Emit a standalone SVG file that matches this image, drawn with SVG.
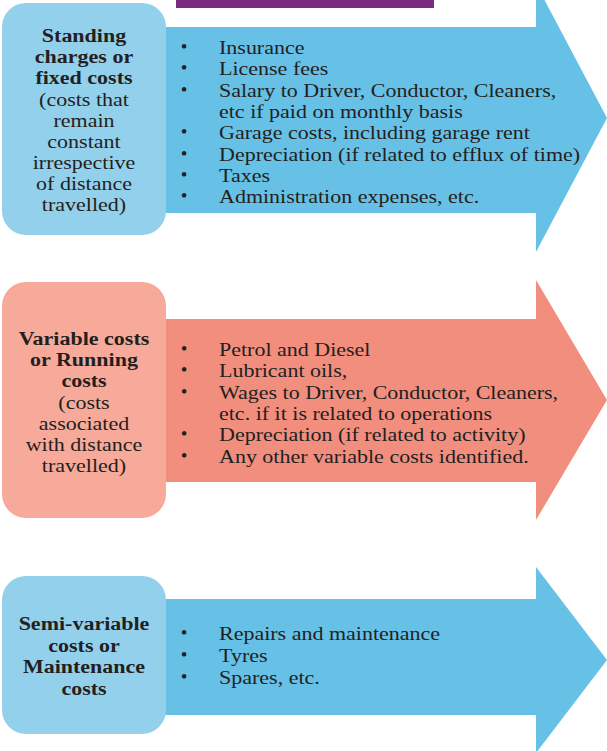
<svg xmlns="http://www.w3.org/2000/svg" width="607" height="751" viewBox="0 0 607 751">
<style>
.t{font-family:"Liberation Serif","Times New Roman",serif;font-size:19px;fill:#231F20}
.c{text-anchor:middle}
.b{font-weight:bold}
.bl{font-family:"Liberation Serif",serif;font-size:19px;fill:#231F20;text-anchor:middle}
.blue{fill:#67C0E6}
.lblue{fill:#93D0EC}
.red{fill:#F28E7E}
.lred{fill:#F7A99A}
</style>
<rect x="176" y="0" width="258" height="8" fill="#7B2A82"/>
<g id="connectors">
<path class="blue" d="M160 27 H536 V-16 L607 118 L536 252 V213 H160 Z"/>
<path class="red" d="M160 319 H536 V280 L607 400 L536 520 V482 H160 Z"/>
<path class="blue" d="M160 599 H536 V567 L607 660 L536 753 V715 H160 Z"/>
</g>
<g id="node1">
<rect class="lblue" x="2" y="3" width="164" height="232" rx="24"/>
<g transform="matrix(1.158 0 0 1 84 0)">
<text class="t c b"><tspan x="0" y="42">Standing</tspan><tspan x="0" y="63">charges or</tspan><tspan x="0" y="84">fixed costs</tspan></text>
<text class="t c"><tspan x="0" y="106">(costs that</tspan><tspan x="0" y="127">remain</tspan><tspan x="0" y="148">constant</tspan><tspan x="0" y="169">irrespective</tspan><tspan x="0" y="190">of distance</tspan><tspan x="0" y="211">travelled)</tspan></text>
</g>
</g>
<g id="list1">
<text class="bl"><tspan x="184" y="53">•</tspan><tspan x="184" y="74">•</tspan><tspan x="184" y="96">•</tspan><tspan x="184" y="138">•</tspan><tspan x="184" y="160">•</tspan><tspan x="184" y="181">•</tspan><tspan x="184" y="202">•</tspan></text>
<g transform="matrix(1.158 0 0 1 219 0)">
<text class="t"><tspan x="0" y="54">Insurance</tspan><tspan x="0" y="75">License fees</tspan><tspan x="0" y="97">Salary to Driver, Conductor, Cleaners,</tspan><tspan x="0" y="118">etc if paid on monthly basis</tspan><tspan x="0" y="139">Garage costs, including garage rent</tspan><tspan x="0" y="161">Depreciation (if related to efflux of time)</tspan><tspan x="0" y="182">Taxes</tspan><tspan x="0" y="203">Administration expenses, etc.</tspan></text>
</g>
</g>
<g id="node2">
<rect class="lred" x="2" y="282" width="164" height="236" rx="24"/>
<g transform="matrix(1.158 0 0 1 84 0)">
<text class="t c b"><tspan x="0" y="345">Variable costs</tspan><tspan x="0" y="366">or Running</tspan><tspan x="0" y="387">costs</tspan></text>
<text class="t c"><tspan x="0" y="409">(costs</tspan><tspan x="0" y="430">associated</tspan><tspan x="0" y="451">with distance</tspan><tspan x="0" y="472">travelled)</tspan></text>
</g>
</g>
<g id="list2">
<text class="bl"><tspan x="184" y="355">•</tspan><tspan x="184" y="376">•</tspan><tspan x="184" y="398">•</tspan><tspan x="184" y="440">•</tspan><tspan x="184" y="462">•</tspan></text>
<g transform="matrix(1.158 0 0 1 219 0)">
<text class="t"><tspan x="0" y="356">Petrol and Diesel</tspan><tspan x="0" y="377">Lubricant oils,</tspan><tspan x="0" y="399">Wages to Driver, Conductor, Cleaners,</tspan><tspan x="0" y="420">etc. if it is related to operations</tspan><tspan x="0" y="441">Depreciation (if related to activity)</tspan><tspan x="0" y="463">Any other variable costs identified.</tspan></text>
</g>
</g>
<g id="node3">
<rect class="lblue" x="2" y="576" width="164" height="158" rx="24"/>
<g transform="matrix(1.158 0 0 1 84 0)">
<text class="t c b"><tspan x="0" y="630">Semi-variable</tspan><tspan x="0" y="652">costs or</tspan><tspan x="0" y="673">Maintenance</tspan><tspan x="0" y="695">costs</tspan></text>
</g>
</g>
<g id="list3">
<text class="bl"><tspan x="184" y="639">•</tspan><tspan x="184" y="661">•</tspan><tspan x="184" y="683">•</tspan></text>
<g transform="matrix(1.158 0 0 1 219 0)">
<text class="t"><tspan x="0" y="640">Repairs and maintenance</tspan><tspan x="0" y="662">Tyres</tspan><tspan x="0" y="684">Spares, etc.</tspan></text>
</g>
</g>
</svg>
